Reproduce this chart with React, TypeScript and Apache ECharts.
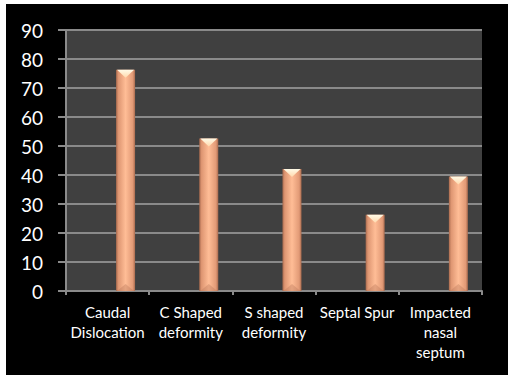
import React, { useEffect, useRef } from "react";
import * as echarts from "echarts";

const categories = [
  "Caudal Dislocation",
  "C Shaped deformity",
  "S shaped deformity",
  "Septal Spur",
  "Impacted nasal septum",
];
const wrappedLabels = [
  "Caudal\nDislocation",
  "C Shaped\ndeformity",
  "S shaped\ndeformity",
  "Septal Spur",
  "Impacted\nnasal\nseptum",
];
const values = [76.3, 52.6, 42.1, 26.3, 39.5];
const yTicks = [0, 10, 20, 30, 40, 50, 60, 70, 80, 90];

export default function App() {
  const ref = useRef<HTMLDivElement>(null);
  useEffect(() => {
    if (!ref.current) return;
    const chart = echarts.init(ref.current, undefined, { renderer: "svg" });
    const barGrad = new echarts.graphic.LinearGradient(0, 0, 1, 0, [
      { offset: 0, color: "#a86a4e" },
      { offset: 0.12, color: "#de9672" },
      { offset: 0.5, color: "#ffbd96" },
      { offset: 0.88, color: "#e29a76" },
      { offset: 1, color: "#a86a4e" },
    ]);
    const capGrad = new echarts.graphic.LinearGradient(0, 0, 0, 1, [
      { offset: 0, color: "#fffbe8" },
      { offset: 1, color: "#ffd9ad" },
    ]);
    chart.setOption({
      animation: false,
      backgroundColor: "#000000",
      grid: {
        left: 60,
        top: 26,
        right: 26,
        bottom: 84,
        show: true,
        backgroundColor: "#404040",
        borderWidth: 0,
      },
      xAxis: {
        type: "category",
        data: categories,
        axisLine: { show: true, lineStyle: { color: "#8a8a8a", width: 2 } },
        axisTick: {
          show: true,
          alignWithLabel: false,
          length: 4,
          lineStyle: { color: "#8a8a8a", width: 2 },
        },
        axisLabel: {
          color: "#ffffff",
          fontFamily: "Lato",
          fontSize: 15,
          lineHeight: 20,
          margin: 11,
          interval: 0,
          formatter: (_v: string, i: number) => wrappedLabels[i],
        },
      },
      yAxis: {
        type: "value",
        min: yTicks[0],
        max: yTicks[yTicks.length - 1],
        interval: 10,
        axisLine: { show: true, lineStyle: { color: "#8a8a8a", width: 2 } },
        axisTick: {
          show: true,
          length: 8,
          lineStyle: { color: "#8a8a8a", width: 2 },
        },
        splitLine: { show: true, lineStyle: { color: "#8a8a8a", width: 2 } },
        axisLabel: {
          color: "#ffffff",
          fontFamily: "Lato",
          fontSize: 19,
          margin: 23,
        },
      },
      series: [
        {
          type: "custom",
          data: values.map((v, i) => [i, v]),
          encode: { x: 0, y: 1 },
          renderItem: (params: any, api: any) => {
            const idx = api.value(0);
            const v = api.value(1);
            const top = api.coord([idx, v]);
            const base = api.coord([idx, 0]);
            const band = api.size([1, 0])[0];
            const cx = top[0] + band * 0.216;
            const w = 19;
            const x0 = cx - w / 2;
            const x1 = cx + w / 2;
            return {
              type: "group",
              children: [
                {
                  type: "rect",
                  shape: { x: x0, y: top[1], width: w, height: base[1] - top[1] },
                  style: { fill: barGrad },
                },
                {
                  type: "polygon",
                  shape: {
                    points: [
                      [x0 + 1, top[1]],
                      [x1 - 1, top[1]],
                      [cx, top[1] + 8],
                    ],
                  },
                  style: { fill: capGrad },
                },
                {
                  type: "polygon",
                  shape: {
                    points: [
                      [x0 + 1, base[1]],
                      [x1 - 1, base[1]],
                      [cx, base[1] - 7],
                    ],
                  },
                  style: { fill: "rgba(180,115,85,0.35)" },
                },
              ],
            };
          },
        },
      ],
    });
    return () => chart.dispose();
  }, []);
  return (
    <div
      style={{
        position: "fixed",
        left: 0,
        top: 0,
        width: 511,
        height: 379,
        background: "#ffffff",
      }}
    >
      <div
        ref={ref}
        style={{ position: "absolute", left: 6, top: 4, width: 502, height: 371 }}
      />
    </div>
  );
}
